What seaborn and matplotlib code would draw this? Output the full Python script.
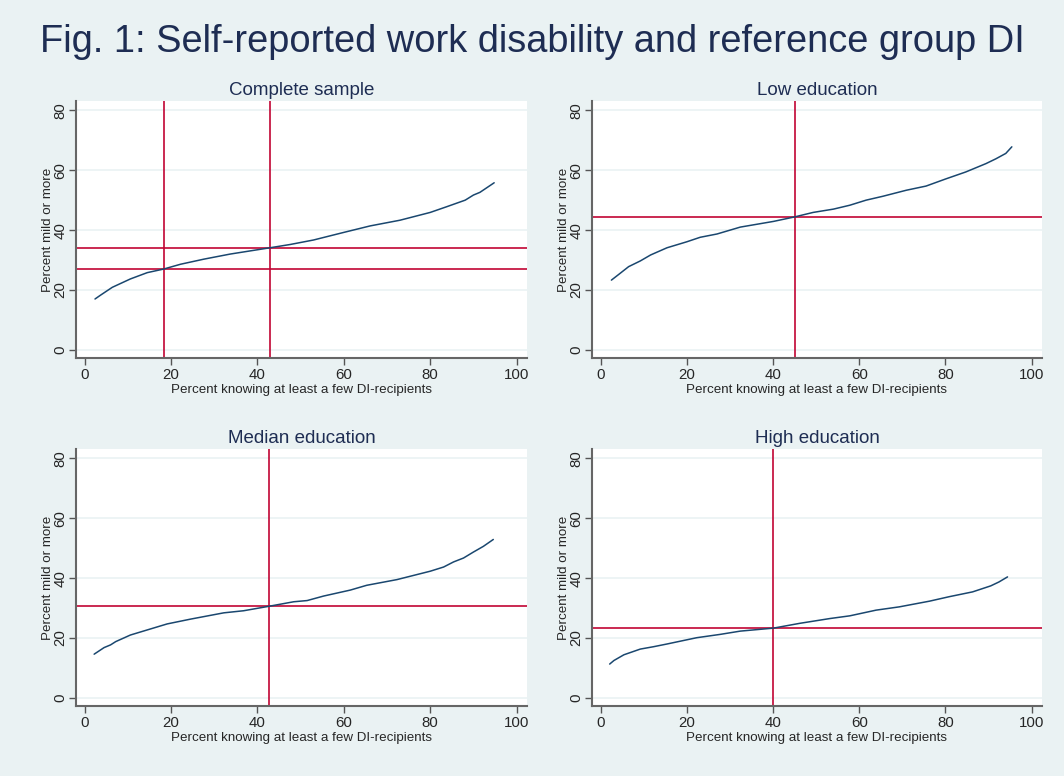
import numpy as np
import pandas as pd
import seaborn as sns
import matplotlib.pyplot as plt

# curve data: x = percent knowing DI-recipients, y = percent mild or more
complete_x = [2.4, 3.7, 6.4, 10.6, 14.5, 18.3, 22.2, 27.6, 33.7, 42.9, 47.6, 53.0, 59.9, 66.1, 73.0, 80.0, 83.8, 88.1, 90.0, 91.5, 94.8]
complete_y = [17.0, 18.3, 20.9, 23.7, 25.8, 27.0, 28.6, 30.3, 32.0, 34.1, 35.2, 36.7, 39.2, 41.4, 43.3, 45.9, 47.8, 50.0, 51.7, 52.6, 55.8]

low_x = [2.5, 4.2, 6.5, 9.2, 11.6, 15.4, 20.0, 23.1, 27.0, 32.4, 40.1, 45.0, 49.3, 54.0, 57.8, 61.6, 65.5, 70.9, 75.5, 80.1, 84.7, 89.4, 91.7, 94.0, 95.4]
low_y = [23.3, 25.2, 27.8, 29.7, 31.7, 34.1, 36.1, 37.6, 38.7, 41.0, 42.9, 44.4, 45.9, 47.0, 48.3, 50.0, 51.3, 53.3, 54.7, 57.1, 59.4, 62.2, 63.8, 65.6, 67.8]

median_x = [2.2, 4.5, 6.0, 7.2, 10.6, 14.5, 19.1, 24.5, 32.2, 36.8, 42.7, 48.4, 51.5, 55.3, 61.5, 65.3, 72.3, 80.0, 83.1, 85.4, 87.7, 90.0, 92.3, 94.6]
median_y = [14.6, 16.8, 17.7, 18.8, 21.0, 22.7, 24.7, 26.3, 28.4, 29.1, 30.6, 32.1, 32.5, 34.0, 36.0, 37.6, 39.5, 42.3, 43.7, 45.4, 46.7, 48.7, 50.6, 52.9]

high_x = [2.1, 3.1, 5.4, 9.2, 12.3, 15.4, 20.0, 22.3, 27.7, 32.4, 40.1, 46.2, 53.2, 57.8, 63.9, 69.3, 76.3, 80.9, 86.3, 90.5, 92.4, 94.4]
high_y = [11.3, 12.5, 14.4, 16.3, 17.1, 18.0, 19.4, 20.1, 21.2, 22.3, 23.3, 24.9, 26.5, 27.4, 29.3, 30.4, 32.3, 33.8, 35.4, 37.4, 38.7, 40.4]

panel_titles = ["Complete sample", "Low education", "Median education", "High education"]
ref_vlines = [[18.3, 42.9], [45.0], [42.7], [40.0]]
ref_hlines = [[34.1, 27.0], [44.4], [30.6], [23.4]]

series = [(complete_x, complete_y), (low_x, low_y), (median_x, median_y), (high_x, high_y)]

bg = "#EAF2F3"
navy = "#1A476F"
red = "#C10534"

sns.set_style("white")
plt.rcParams["font.family"] = ["Liberation Sans", "DejaVu Sans"]

fig = plt.figure(figsize=(10.64, 7.76), dpi=100, facecolor=bg)

# axes boxes in pixels (left, top, right, bottom)
W, H = 1064, 776
boxes = [(76, 101, 527, 358), (592, 101, 1042, 358), (76, 449, 527, 706), (592, 449, 1042, 706)]

for i, (x0, y0, x1, y1) in enumerate(boxes):
    ax = fig.add_axes([x0 / W, 1 - y1 / H, (x1 - x0) / W, (y1 - y0) / H])
    ax.set_facecolor("white")
    xs, ys = series[i]
    df = pd.DataFrame({"x": xs, "y": ys})
    ax.yaxis.grid(True, color=bg, linewidth=1.2)
    ax.set_axisbelow(True)
    for v in ref_vlines[i]:
        ax.axvline(v, color=red, linewidth=1.2)
    for h in ref_hlines[i]:
        ax.axhline(h, color=red, linewidth=1.2)
    sns.lineplot(data=df, x="x", y="y", ax=ax, color=navy, linewidth=1.1)
    ax.set_xlim(-2, 102.4)
    ax.set_ylim(-2.7, 83.1)
    ax.set_xticks([0, 20, 40, 60, 80, 100])
    ax.set_yticks([0, 20, 40, 60, 80])
    ax.tick_params(axis="both", direction="out", length=5, width=1, color="#555555",
                   labelsize=10.8, bottom=True, left=True)
    ax.tick_params(axis="x", pad=2)
    ax.tick_params(axis="y", pad=1)
    for lab in ax.get_yticklabels():
        lab.set_rotation(90)
        lab.set_va("center")
    for side in ["top", "right"]:
        ax.spines[side].set_visible(False)
    for side in ["left", "bottom"]:
        ax.spines[side].set_color("#666666")
        ax.spines[side].set_linewidth(1.5)
    ax.set_xlabel("Percent knowing at least a few DI-recipients", fontsize=9.6, labelpad=2)
    ax.set_ylabel("Percent mild or more", fontsize=9.6, labelpad=0)
    ax.set_title(panel_titles[i], fontsize=13.5, color="#1E2D53", pad=4)

fig.text(0.5, 1 - 52 / H, "Fig. 1: Self-reported work disability and reference group DI",
         fontsize=27.4, color="#1E2D53", ha="center", va="baseline")

plt.savefig("out.png", dpi=100, facecolor=bg)
